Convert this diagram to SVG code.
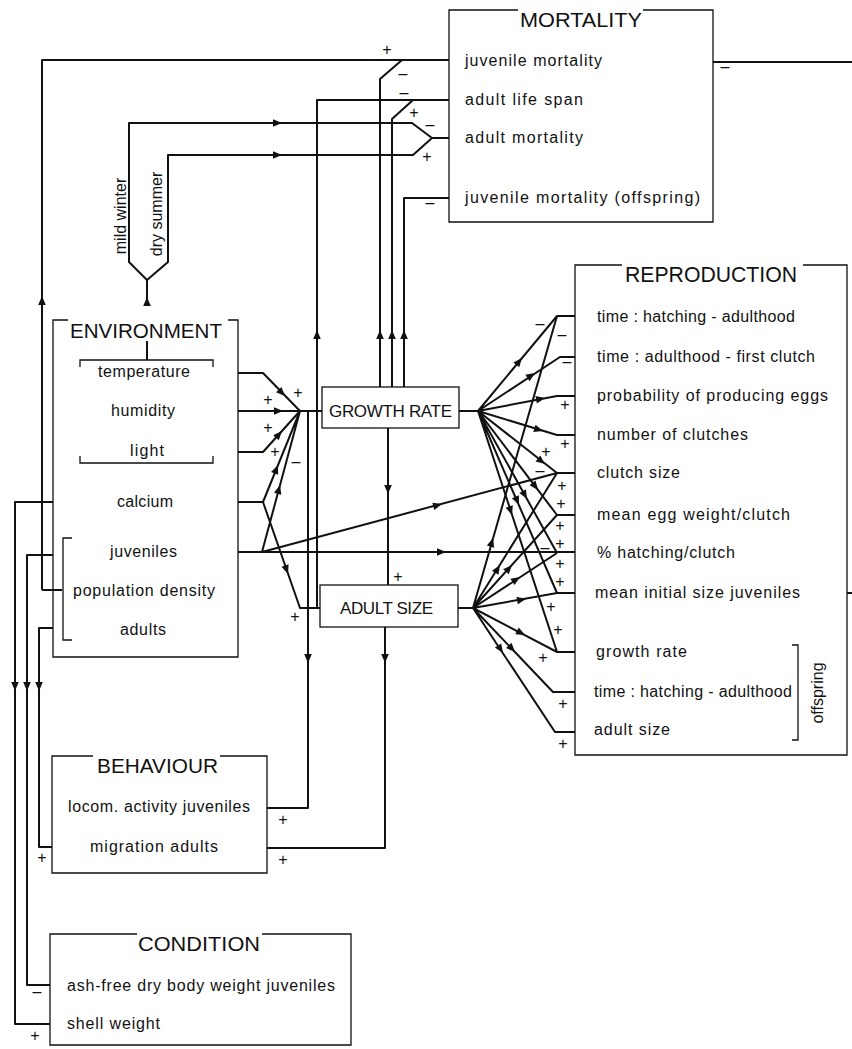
<svg xmlns="http://www.w3.org/2000/svg" xmlns:xlink="http://www.w3.org/1999/xlink" width="852" height="1049" viewBox="0 0 852 1049">
<style>
.ln{fill:none;stroke:#111;stroke-width:2;stroke-linejoin:round}
.bx{fill:none;stroke:#111;stroke-width:1.3}
.t{font-family:"Liberation Sans",Arial,sans-serif;font-size:16px;fill:#111}
.h{font-family:"Liberation Sans",Arial,sans-serif;font-size:21px;fill:#111}
.s{font-family:"Liberation Sans",Arial,sans-serif;font-size:16px;fill:#111;text-anchor:middle}
.ah{fill:#111}
</style>
<defs>
<path id="a" class="ah" d="M0,0 L-9,-3.8 L-9,3.8 Z"/>
</defs>
<rect width="852" height="1049" fill="#fff"/>

<g id="mortality">
<path class="bx" d="M518,10 H449 V222 H713 V10 H643"/>
<text class="h" x="520" y="27" textLength="122" lengthAdjust="spacingAndGlyphs">MORTALITY</text>
<text class="t" x="465" y="66" textLength="137">juvenile mortality</text>
<text class="t" x="465" y="105" textLength="118">adult life span</text>
<text class="t" x="465" y="143" textLength="118">adult mortality</text>
<text class="t" x="465" y="203" textLength="235">juvenile mortality (offspring)</text>
</g>

<g id="environment">
<path class="bx" d="M68,320 H53 V657 H238 V320 H228"/>
<text class="h" x="70" y="338" textLength="152" lengthAdjust="spacingAndGlyphs">ENVIRONMENT</text>
<path class="bx" d="M80,367 V360 H213 V367 M80,456 V463 H213 V456 M72,538 H63 V640 H72"/>
<text class="t" x="98" y="377" textLength="92">temperature</text>
<text class="t" x="111" y="416" textLength="64">humidity</text>
<text class="t" x="130" y="456" textLength="34">light</text>
<text class="t" x="117" y="507" textLength="56">calcium</text>
<text class="t" x="110" y="557" textLength="67">juveniles</text>
<text class="t" x="73" y="596" textLength="142">population density</text>
<text class="t" x="120" y="635" textLength="46">adults</text>
</g>

<g id="growth-rate">
<rect class="bx" x="322" y="387" width="137" height="41"/>
<text class="t" style="font-size:17px" x="329" y="417" textLength="123">GROWTH RATE</text>
</g>

<g id="adult-size">
<rect class="bx" x="320" y="585" width="138" height="42"/>
<text class="t" style="font-size:17px" x="340" y="614" textLength="93">ADULT SIZE</text>
</g>

<g id="reproduction">
<path class="bx" d="M622,265 H575 V755 H847 V265 H803"/>
<text class="h" style="font-size:22px" x="625" y="282" textLength="172" lengthAdjust="spacingAndGlyphs">REPRODUCTION</text>
<text class="t" x="597" y="322" textLength="198">time : hatching - adulthood</text>
<text class="t" x="597" y="362" textLength="218">time : adulthood - first clutch</text>
<text class="t" x="597" y="401" textLength="231">probability of producing eggs</text>
<text class="t" x="597" y="440" textLength="151">number of clutches</text>
<text class="t" x="597" y="478" textLength="83">clutch size</text>
<text class="t" x="597" y="520" textLength="193">mean egg weight/clutch</text>
<text class="t" x="597" y="558" textLength="138">% hatching/clutch</text>
<text class="t" x="595" y="598" textLength="205">mean initial size juveniles</text>
<text class="t" x="596" y="657" textLength="91">growth rate</text>
<text class="t" x="594" y="697" textLength="198">time : hatching - adulthood</text>
<text class="t" x="594" y="735" textLength="76">adult size</text>
<path class="bx" d="M792,645 H798 V740 H792"/>
<text class="t" transform="translate(823,693) rotate(-90)" text-anchor="middle">offspring</text>
</g>

<g id="behaviour">
<path class="bx" d="M93,756 H52 V873 H267 V756 H220"/>
<text class="h" x="97" y="773" textLength="121" lengthAdjust="spacingAndGlyphs">BEHAVIOUR</text>
<text class="t" x="68" y="812" textLength="182">locom. activity juveniles</text>
<text class="t" x="90" y="852" textLength="128">migration adults</text>
</g>

<g id="condition">
<path class="bx" d="M137,934 H50 V1045 H351 V934 H262"/>
<text class="h" x="138" y="951" textLength="122" lengthAdjust="spacingAndGlyphs">CONDITION</text>
<text class="t" x="67" y="991" textLength="268">ash-free dry body weight juveniles</text>
<text class="t" x="67" y="1029" textLength="93">shell weight</text>
</g>

<g id="connectors">
<path class="ln" d="M147,305 V280 L129,262 V123 H412 L432,138 H449 M147,280 L168,262 V155 H413 L432,138 M147,341 V360"/>
<text class="t" transform="translate(126,216) rotate(-90)" text-anchor="middle">mild winter</text>
<text class="t" transform="translate(162,214) rotate(-90)" text-anchor="middle">dry summer</text>
<path class="ln" d="M42,590 H62 M42,590 V60 H449 M380,387 V79 L402,60 M317,608 V100 H449 M392,387 V119 L413,100 M404,387 V198 H449 M713,62 H852"/>
<path class="ln" d="M238,373 H263 L300,411 M238,411 H322 M238,452 H263 L300,411 M238,502 H263 L300,411 M263,502 L300,608 H320 M238,552 H575 M262,552 L300,411 M262,552 L557,473 M308,411 V808 H267 M388,428 V585 M385,627 V848 H267"/>
<path class="ln" d="M53,502 H15 V1024 H50 M53,555 H27 V985 H50 M53,628 H39 V847 H52"/>
<path class="ln" d="M459,411 H478 M478,411 L557,316 H575 M478,411 L560,357 H575 M478,411 L557,396 H575 M478,411 L557,435 H575 M478,411 L557,473 H575 M478,411 L557,515 H575 M478,411 L557,553 M478,411 L557,593 H575 M478,411 L557,652 H575"/>
<path class="ln" d="M458,608 H473 M473,608 L557,316 M473,608 L557,473 M473,608 L557,515 M473,608 L557,553 M473,608 L557,593 M473,608 L557,652 M473,608 L553,692 H575 M473,608 L555,732 H575 M847,593 H852"/>
<use xlink:href="#a" transform="translate(147,297) rotate(-90)"/>
<use xlink:href="#a" transform="translate(42,296) rotate(-90)"/>
<use xlink:href="#a" transform="translate(282,123)"/>
<use xlink:href="#a" transform="translate(282,155)"/>
<use xlink:href="#a" transform="translate(317,330) rotate(-90)"/>
<use xlink:href="#a" transform="translate(380,330) rotate(-90)"/>
<use xlink:href="#a" transform="translate(392,330) rotate(-90)"/>
<use xlink:href="#a" transform="translate(404,330) rotate(-90)"/>
<use xlink:href="#a" transform="translate(285,396) rotate(45.8)"/>
<use xlink:href="#a" transform="translate(283,411)"/>
<use xlink:href="#a" transform="translate(282,431) rotate(-47.9)"/>
<use xlink:href="#a" transform="translate(278,465) rotate(-67.9)"/>
<use xlink:href="#a" transform="translate(288,574) rotate(70.8)"/>
<use xlink:href="#a" transform="translate(280,485) rotate(-74.9)"/>
<use xlink:href="#a" transform="translate(442,504) rotate(-15)"/>
<use xlink:href="#a" transform="translate(446,552)"/>
<use xlink:href="#a" transform="translate(388,494) rotate(90)"/>
<use xlink:href="#a" transform="translate(308,663) rotate(90)"/>
<use xlink:href="#a" transform="translate(385,663) rotate(90)"/>
<use xlink:href="#a" transform="translate(15,691) rotate(90)"/>
<use xlink:href="#a" transform="translate(27,691) rotate(90)"/>
<use xlink:href="#a" transform="translate(39,691) rotate(90)"/>
<use xlink:href="#a" transform="translate(522,358) rotate(-50.3)"/>
<use xlink:href="#a" transform="translate(535,373) rotate(-33.4)"/>
<use xlink:href="#a" transform="translate(545,398) rotate(-10.7)"/>
<use xlink:href="#a" transform="translate(543,431) rotate(16.9)"/>
<use xlink:href="#a" transform="translate(545,464) rotate(38.1)"/>
<use xlink:href="#a" transform="translate(538,490) rotate(52.8)"/>
<use xlink:href="#a" transform="translate(527,499) rotate(60.9)"/>
<use xlink:href="#a" transform="translate(519,505) rotate(66.5)"/>
<use xlink:href="#a" transform="translate(512,515) rotate(71.9)"/>
<use xlink:href="#a" transform="translate(493,538) rotate(-74)"/>
<use xlink:href="#a" transform="translate(500,565) rotate(-58.1)"/>
<use xlink:href="#a" transform="translate(512,565) rotate(-47.9)"/>
<use xlink:href="#a" transform="translate(520,577) rotate(-33.2)"/>
<use xlink:href="#a" transform="translate(526,599) rotate(-10.1)"/>
<use xlink:href="#a" transform="translate(525,635) rotate(27.6)"/>
<use xlink:href="#a" transform="translate(515,652) rotate(46.4)"/>
<use xlink:href="#a" transform="translate(503,653) rotate(56.5)"/>
<text class="s" x="387" y="55">+</text>
<text class="s" x="403" y="79">–</text>
<text class="s" x="404" y="98">–</text>
<text class="s" x="414" y="118">+</text>
<text class="s" x="430" y="130">–</text>
<text class="s" x="427" y="162">+</text>
<text class="s" x="430" y="208">–</text>
<text class="s" x="725" y="72">–</text>
<text class="s" x="298" y="398">+</text>
<text class="s" x="268" y="405">+</text>
<text class="s" x="268" y="433">+</text>
<text class="s" x="275" y="457">+</text>
<text class="s" x="296" y="467">–</text>
<text class="s" x="295" y="622">+</text>
<text class="s" x="398" y="582">+</text>
<text class="s" x="283" y="825">+</text>
<text class="s" x="283" y="865">+</text>
<text class="s" x="42" y="863">+</text>
<text class="s" x="37" y="997">–</text>
<text class="s" x="35" y="1041">+</text>
<text class="s" x="540" y="329">–</text>
<text class="s" x="562" y="340">–</text>
<text class="s" x="567" y="367">–</text>
<text class="s" x="565" y="410">+</text>
<text class="s" x="546" y="457">+</text>
<text class="s" x="565" y="449">+</text>
<text class="s" x="540" y="476">–</text>
<text class="s" x="562" y="491">+</text>
<text class="s" x="561" y="509">+</text>
<text class="s" x="560" y="531">+</text>
<text class="s" x="560" y="549">+</text>
<text class="s" x="545" y="553">–</text>
<text class="s" x="560" y="569">+</text>
<text class="s" x="560" y="587">+</text>
<text class="s" x="551" y="612">+</text>
<text class="s" x="558" y="635">+</text>
<text class="s" x="543" y="663">+</text>
<text class="s" x="563" y="709">+</text>
<text class="s" x="563" y="749">+</text>
</g>
</svg>
